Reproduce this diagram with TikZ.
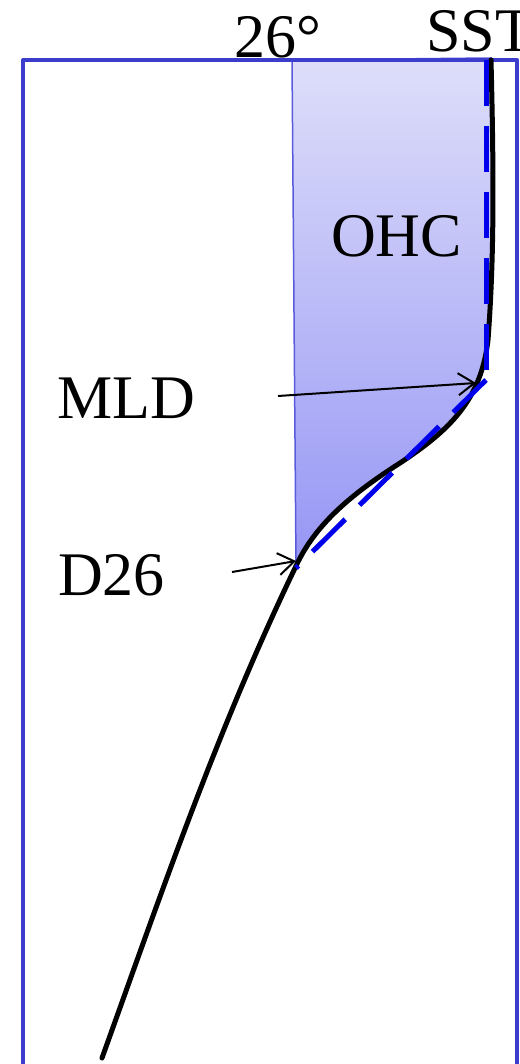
\documentclass[tikz,border=0pt]{standalone}
\usepackage{fontspec}
\setmainfont{Liberation Serif}
\usetikzlibrary{arrows.meta}
\definecolor{framecol}{RGB}{60,60,205}
\definecolor{edgecol}{RGB}{90,90,220}
\definecolor{shtop}{RGB}{222,222,250}
\definecolor{shbot}{RGB}{150,150,245}
\definecolor{dashcol}{RGB}{0,0,235}
\tikzset{
  lbl/.style={inner sep=0pt, anchor=base west, font=\fontsize{62}{70}\selectfont},
  profile/.style={line width=5pt, line cap=round, line join=round, black},
  dashline/.style={line width=5pt, dashcol, dash pattern=on 46pt off 20pt},
  pointer/.style={line width=2pt, -{Straight Barb[length=16pt,width=22pt,line width=2pt]}}
}
\begin{document}
\begin{tikzpicture}[x=1pt,y=-1pt]
\useasboundingbox (0,0) rectangle (519,1064);
% shaded OHC region
\shade[top color=shtop, bottom color=shbot, draw=edgecol, line width=1.5pt]
  (292,60) -- (491,58) -- (491,60)
  .. controls (494,180) and (494,260) .. (488,340)
  .. controls (481,400) and (450,430) .. (400,463)
  .. controls (350,495) and (315,525) .. (296,566) -- cycle;
% frame
\draw[framecol, line width=4pt, line join=round] (23,1070) -- (23,60) -- (517,60) -- (517,1070);
% temperature profile
\draw[profile] (491,60)
  .. controls (494,180) and (494,260) .. (488,340)
  .. controls (481,400) and (450,430) .. (400,463)
  .. controls (350,495) and (315,525) .. (296,566)
  .. controls (217,730) and (161,894) .. (102,1058);
% dashed mixed layer lines
\coordinate (vtop) at (486.5,60);
\coordinate (vbot) at (486.5,372);
\coordinate (dtop) at (486,380);
\coordinate (dbot) at (296,568);
\draw[dashline] (vtop) -- (vbot);
\draw[dashline] (dtop) -- (dbot);
% labels
\node[lbl] (t26) at (234,58) {26°};
\node[lbl] (sst) at (426,52) {SST};
\node[lbl] (ohc) at (331,257) {OHC};
\node[lbl] (mld) at (57,418) {MLD};
\node[lbl] (d26) at (58,595) {D26};
% arrows
\coordinate (mldtail) at (278,396);
\coordinate (mldtip) at (476,383);
\coordinate (d26tail) at (232,572);
\coordinate (d26tip) at (296,561);
\draw[pointer] (mldtail) -- (mldtip);
\draw[pointer] (d26tail) -- (d26tip);
\end{tikzpicture}
\end{document}
